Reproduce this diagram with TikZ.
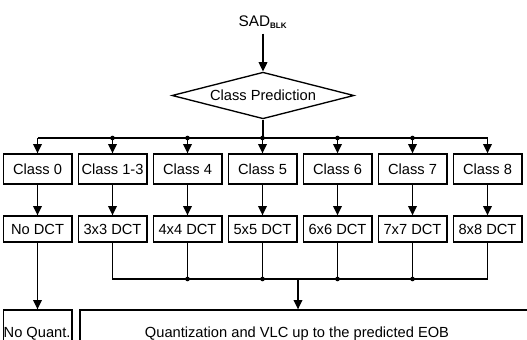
\documentclass[tikz,border=0pt]{standalone}
\usepackage{fontspec}
\setmainfont{Liberation Sans}
\usetikzlibrary{shapes.geometric,arrows.meta}
\begin{document}
\begin{tikzpicture}[x=0.75pt,y=-0.75pt,->,>={Triangle[length=7pt,width=6.5pt]},line width=1pt]
        \tikzstyle{classbox}=[rectangle,draw=black,minimum width=51.5pt,minimum height=22.5pt,inner sep=0pt,font=\fontsize{11}{12}\selectfont]
        \tikzstyle{dctbox}=[classbox,minimum height=19.5pt]
        \tikzstyle{decide}=[diamond,draw=black,aspect=3.9,minimum width=136.5pt,minimum height=35pt,inner sep=0pt,font=\fontsize{11}{12}\selectfont]
        \tikzstyle{joint}=[circle,fill=black,inner sep=0pt,minimum size=3.5pt]
        \tikzstyle{edge}=[draw]
        \useasboundingbox (0,0) rectangle (527,339);
        \clip (0,0) rectangle (527,339);
        % input and class prediction
        \node [font=\fontsize{11.5}{12}\selectfont] (sad) at (263,22) {SAD\textsubscript{\fontsize{6}{6}\selectfont\bfseries BLK}};
        \node [decide] (cp) at (263,95.5) {Class Prediction};
        \path[edge] (sad) -- (cp);
        \coordinate (topbus) at (263,138);
        \coordinate (lowbus) at (298,279);
        % classes and transforms
        \foreach \i/\cname/\dname in {0/Class 0/No DCT,1/Class 1-3/3x3 DCT,2/Class 4/4x4 DCT,3/Class 5/5x5 DCT,4/Class 6/6x6 DCT,5/Class 7/7x7 DCT,6/Class 8/8x8 DCT}
        {
          \node [classbox] (c\i) at (37.5+75*\i,169) {\cname};
          \node [dctbox] (d\i) at (37.5+75*\i,229) {\dname};
          \path[edge] (c\i |- topbus) -- (c\i);
          \path[edge] (c\i) -- (d\i);
        }
        \path[edge,-] (cp) -- (topbus);
        \path[edge,-] (c0 |- topbus) -- (c6 |- topbus);
        \foreach \i in {1,2,3,4,5}
          \node [joint] (tj\i) at (c\i |- topbus) {};
        % collecting the DCT outputs
        \path[edge,-] (d1) -- (d1 |- lowbus) -| (d6);
        \foreach \i in {2,3,4,5}
        {
          \path[edge,-] (d\i) -- (d\i |- lowbus);
          \node [joint] (lj\i) at (d\i |- lowbus) {};
        }
        % quantization
        \node [classbox,minimum height=34.5pt] (nq) at (37.5,333) {};
        \node [anchor=west,inner sep=0pt,font=\fontsize{11}{12}\selectfont] (nqtext) at (3,334) {No Quant.};
        \node [classbox,minimum width=345pt,minimum height=34.5pt] (vlc) at (310,333) {};
        \node [font=\fontsize{11}{12}\selectfont] (vlctext) at (297,334) {Quantization and VLC up to the predicted EOB};
        \path[edge] (d0) -- (nq);
        \path[edge] (lowbus) -- (lowbus |- vlc.north);
\end{tikzpicture}
\end{document}
